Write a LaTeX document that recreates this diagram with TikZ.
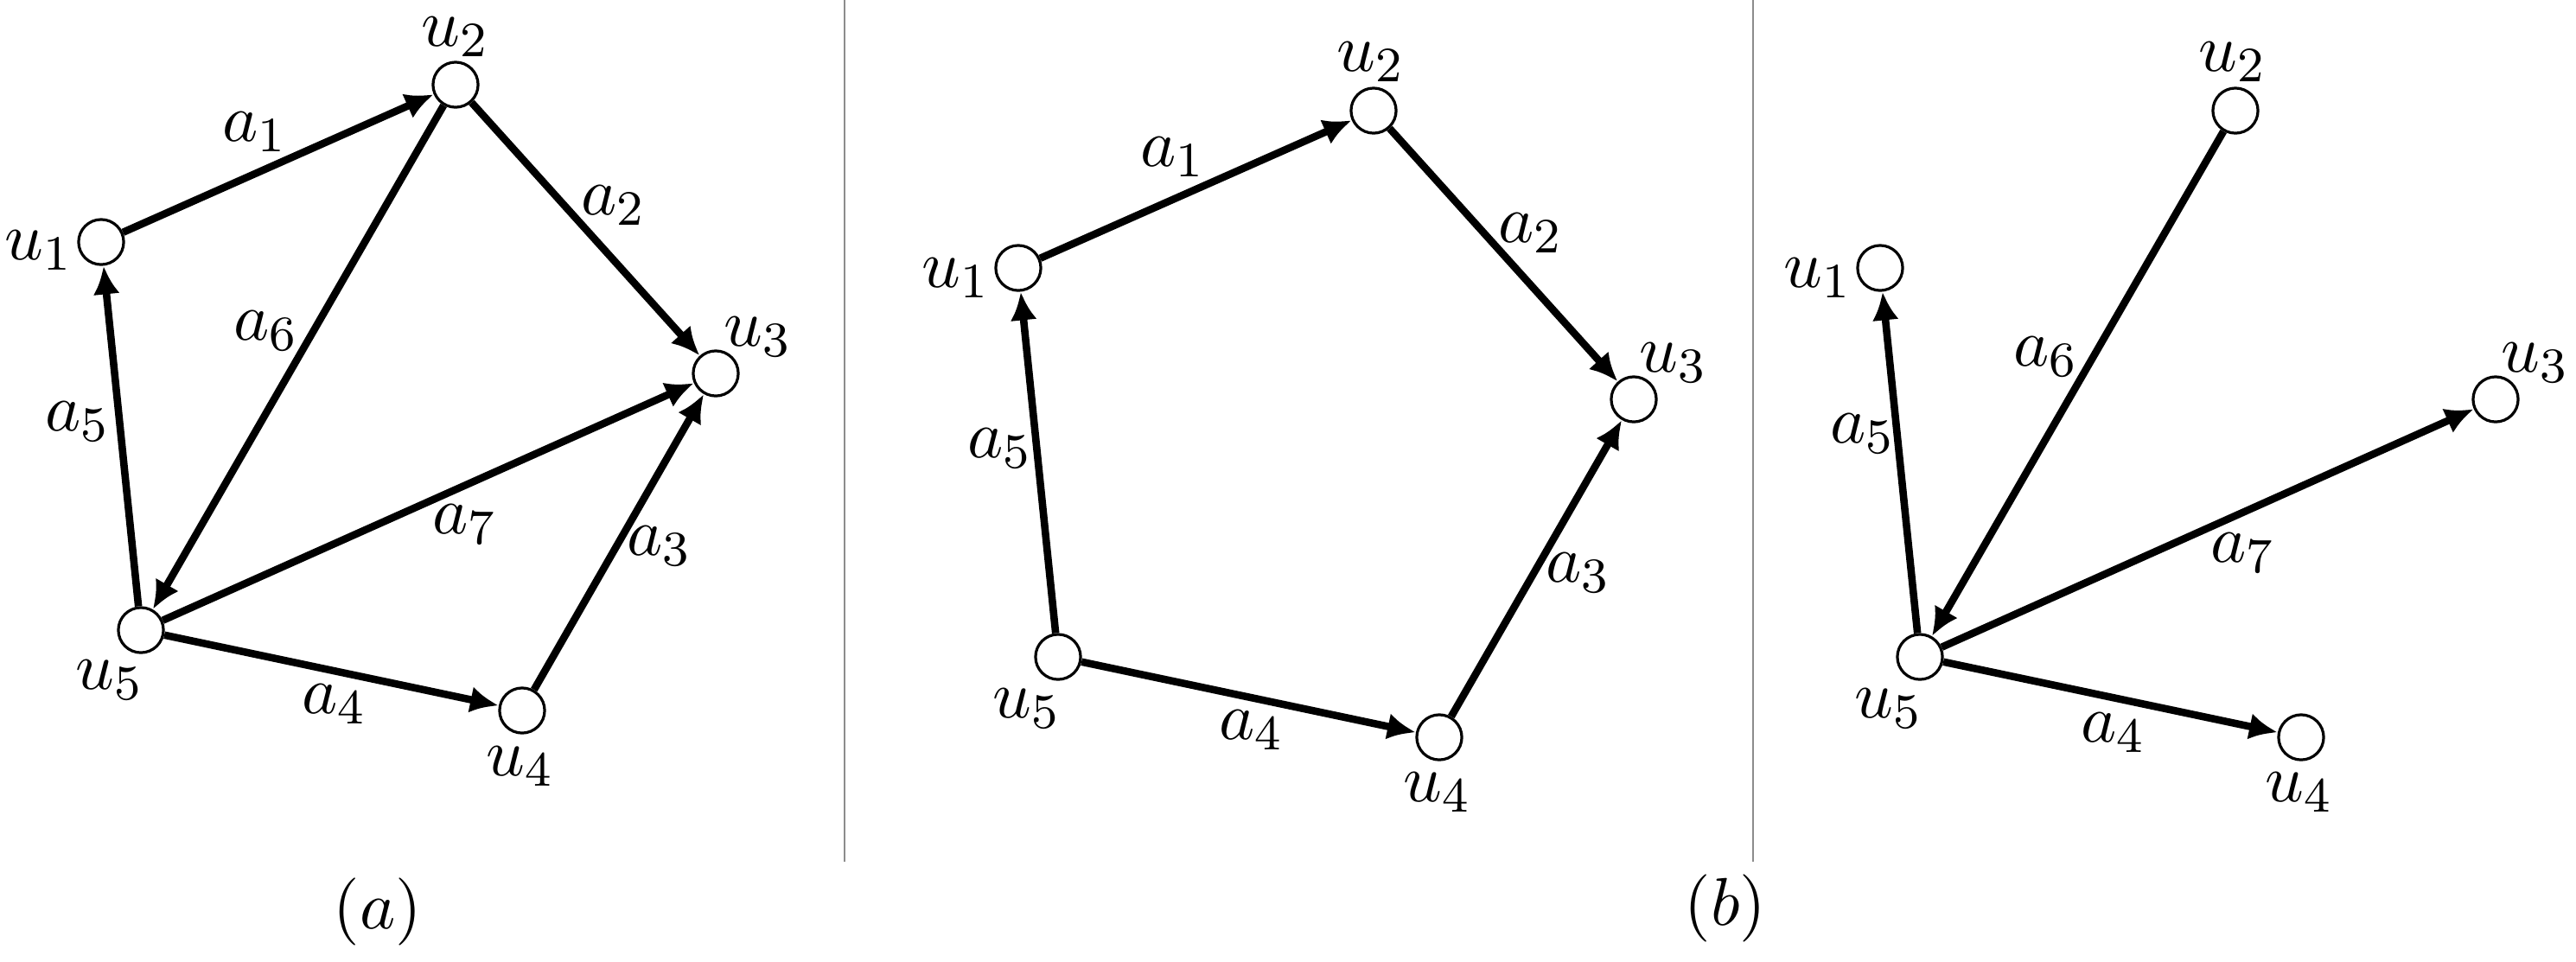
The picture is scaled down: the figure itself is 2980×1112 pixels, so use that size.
\documentclass[tikz,border=0pt]{standalone}
\usetikzlibrary{arrows.meta}
\begin{document}
\begin{tikzpicture}[x=0.14pt,y=-0.14pt,
  vtx/.style={circle,draw,line width=0.45pt,minimum size=7.3pt,inner sep=0pt,fill=white},
  lbl/.style={inner sep=0pt,font=\fontsize{10.8}{13}\selectfont},
  arc/.style={line width=1.2pt,-{Latex[length=4.6pt,width=4.3pt]}},
  sepline/.style={line width=0.3pt,draw=black!45}]
\useasboundingbox (0,0) rectangle (2980,1112);

% separators
\coordinate (s1t) at (977,0);
\coordinate (s1b) at (977,997);
\coordinate (s2t) at (2028,0);
\coordinate (s2b) at (2028,997);
\draw[sepline] (s1t) -- (s1b);
\draw[sepline] (s2t) -- (s2b);

% ---------- panel (a) ----------
\node[vtx] (a1) at (117,280) {};
\node[vtx] (a2) at (527,98) {};
\node[vtx] (a3) at (828,432) {};
\node[vtx] (a4) at (604,822) {};
\node[vtx] (a5) at (163,729) {};
\node[lbl] (la1) at (45,290) {$u_1$};
\node[lbl] (la2) at (527,43) {$u_2$};
\node[lbl] (la3) at (877,390) {$u_3$};
\node[lbl] (la4) at (602,887) {$u_4$};
\node[lbl] (la5) at (127,787) {$u_5$};
\draw[arc] (a1) -- (a2);
\draw[arc] (a2) -- (a3);
\draw[arc] (a4) -- (a3);
\draw[arc] (a5) -- (a4);
\draw[arc] (a5) -- (a1);
\draw[arc] (a2) -- (a5);
\draw[arc] (a5) -- (a3);
\node[lbl] (ea1) at (295,153) {$a_1$};
\node[lbl] (ea2) at (710,238) {$a_2$};
\node[lbl] (ea3) at (763,632) {$a_3$};
\node[lbl] (ea4) at (387,815) {$a_4$};
\node[lbl] (ea5) at (90,488) {$a_5$};
\node[lbl] (ea6) at (308,383) {$a_6$};
\node[lbl] (ea7) at (538,607) {$a_7$};
\node[lbl] (capa) at (437,1055) {$(a)$};

% ---------- panel (b) middle ----------
\node[vtx] (b1) at (1178,310) {};
\node[vtx] (b2) at (1589,128) {};
\node[vtx] (b3) at (1890,462) {};
\node[vtx] (b4) at (1665,853) {};
\node[vtx] (b5) at (1224,760) {};
\node[lbl] (lb1) at (1106,322) {$u_1$};
\node[lbl] (lb2) at (1586,72) {$u_2$};
\node[lbl] (lb3) at (1936,420) {$u_3$};
\node[lbl] (lb4) at (1663,917) {$u_4$};
\node[lbl] (lb5) at (1188,820) {$u_5$};
\draw[arc] (b1) -- (b2);
\draw[arc] (b2) -- (b3);
\draw[arc] (b4) -- (b3);
\draw[arc] (b5) -- (b4);
\draw[arc] (b5) -- (b1);
\node[lbl] (eb1) at (1357,182) {$a_1$};
\node[lbl] (eb2) at (1771,270) {$a_2$};
\node[lbl] (eb3) at (1826,663) {$a_3$};
\node[lbl] (eb4) at (1448,845) {$a_4$};
\node[lbl] (eb5) at (1157,519) {$a_5$};
\node[lbl] (capb) at (1996,1051) {$(b)$};

% ---------- panel (b) right ----------
\node[vtx] (c1) at (2175,310) {};
\node[vtx] (c2) at (2586,128) {};
\node[vtx] (c3) at (2887,462) {};
\node[vtx] (c4) at (2662,853) {};
\node[vtx] (c5) at (2221,760) {};
\node[lbl] (lc1) at (2103,322) {$u_1$};
\node[lbl] (lc2) at (2583,72) {$u_2$};
\node[lbl] (lc3) at (2933,420) {$u_3$};
\node[lbl] (lc4) at (2660,917) {$u_4$};
\node[lbl] (lc5) at (2185,820) {$u_5$};
\draw[arc] (c5) -- (c1);
\draw[arc] (c2) -- (c5);
\draw[arc] (c5) -- (c3);
\draw[arc] (c5) -- (c4);
\node[lbl] (ec4) at (2445,848) {$a_4$};
\node[lbl] (ec5) at (2155,502) {$a_5$};
\node[lbl] (ec6) at (2367,413) {$a_6$};
\node[lbl] (ec7) at (2595,640) {$a_7$};
\end{tikzpicture}
\end{document}
